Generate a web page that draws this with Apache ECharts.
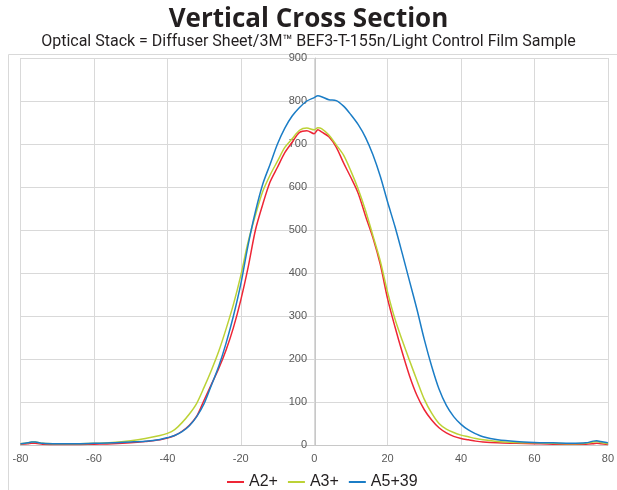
<!DOCTYPE html>
<html>
<head>
<meta charset="utf-8">
<script src="https://cdn.jsdelivr.net/npm/echarts@6/dist/echarts.min.js"></script>
<style>html,body{margin:0;padding:0;background:#fff}#c{width:617px;height:490px}</style>
</head>
<body>
<div id="c"></div>
<script>
const angles = [-80,-78,-77,-76,-74,-70,-65,-60,-55,-50,-46,-42,-40,-38,-36,-34,-32,-30,-28,-26,-24,-22,-20,-18,-16,-14,-12,-10,-8,-6,-4,-2,0,1,2,4,6,8,10,12,14,16,18,20,22,24,26,28,30,32,34,36,38,40,42,44,46,50,55,60,65,70,74,76,77,78,80];
const seriesNames = ['A2+','A3+','A5+39'];
const a2 = [2,3,4,4,2,1,1,2,3,5,8,12,16,22,32,46,67,104,141,178,221,273,337,413,500,560,612,646,680,704,727,731,724,733,728,717,693,656,622,585,532,482,420,340,275,215,160,115,82,58,40,28,20,15,12,9,7,5,4,3,2,2,2,3,4,3,1];
const a3 = [3,5,7,7,4,3,3,4,6,10,15,22,27,36,52,72,97,134,174,218,270,327,394,472,535,590,628,660,692,712,732,737,733,738,736,721,698,674,637,595,545,487,428,355,293,243,196,150,106,74,50,37,29,23,19,15,12,8,6,5,4,3,4,7,8,6,3];
const a5 = [3,5,7,7,4,3,3,4,5,7,9,13,17,22,31,45,66,96,139,183,237,300,374,465,543,607,653,700,737,765,785,800,808,812,810,803,801,788,768,745,715,675,625,565,508,445,380,315,245,183,130,92,66,48,35,26,19,12,8,6,5,4,5,9,10,8,5];
const xTicks = {min:-80, max:80, interval:20};
const yTicks = {min:0, max:900, interval:100};
const colors = ['#ee2636','#bcd236','#1b7dc6'];

const chart = echarts.init(document.getElementById('c'));
const toPts = arr => angles.map((x,i)=>[x, arr[i]]);
const gridW = 617 - 20.5 - 7.5;
chart.setOption({
  animation:false,
  color: colors,
  title:[
    {text:'Vertical Cross Section', left:'center', top:2,
     textStyle:{fontSize:26, fontWeight:'bold', color:'#231f20', fontFamily:'Open Sans'}},
    {text:'Optical Stack = Diffuser Sheet/3M™ BEF3-T-155n/Light Control Film Sample', left:'center', top:29,
     textStyle:{fontSize:16, fontWeight:'normal', color:'#231f20', fontFamily:'Roboto'}}
  ],
  graphic:[{type:'rect', left:6, top:52, shape:{width:640, height:460}, style:{fill:'none', stroke:'#d9d9d9', lineWidth:1}, silent:true}],
  legend:{
    data: seriesNames, top:469, left:222, icon:'rect', itemWidth:17, itemHeight:2, itemGap:10,
    textStyle:{fontSize:16, color:'#231f20', fontFamily:'Liberation Sans'}
  },
  grid:{left:20.5, right:7.5, top:58, bottom:45, containLabel:false},
  xAxis:{
    type:'value', min:xTicks.min, max:xTicks.max, interval:xTicks.interval,
    axisLine:{show:true, lineStyle:{color:'#c8c8c8'}}, axisTick:{show:false},
    axisLabel:{fontSize:11, color:'#595959', margin:8, fontFamily:'Liberation Sans'},
    splitLine:{show:true, lineStyle:{color:'#d9d9d9', width:1}}
  },
  yAxis:{
    type:'value', min:yTicks.min, max:yTicks.max, interval:yTicks.interval,
    position:'left', offset:-gridW/2,
    axisLine:{show:true, onZero:false, lineStyle:{color:'#c8c8c8'}}, axisTick:{show:false},
    axisLabel:{fontSize:11, color:'#595959', margin:8, fontFamily:'Liberation Sans'},
    splitLine:{show:true, lineStyle:{color:'#d9d9d9', width:1}}
  },
  series:[
    {name:seriesNames[0], type:'line', data:toPts(a2), symbol:'none', smooth:0.3, lineStyle:{width:1.5}},
    {name:seriesNames[1], type:'line', data:toPts(a3), symbol:'none', smooth:0.3, lineStyle:{width:1.5}},
    {name:seriesNames[2], type:'line', data:toPts(a5), symbol:'none', smooth:0.3, lineStyle:{width:1.5}}
  ]
});
</script>
</body>
</html>
